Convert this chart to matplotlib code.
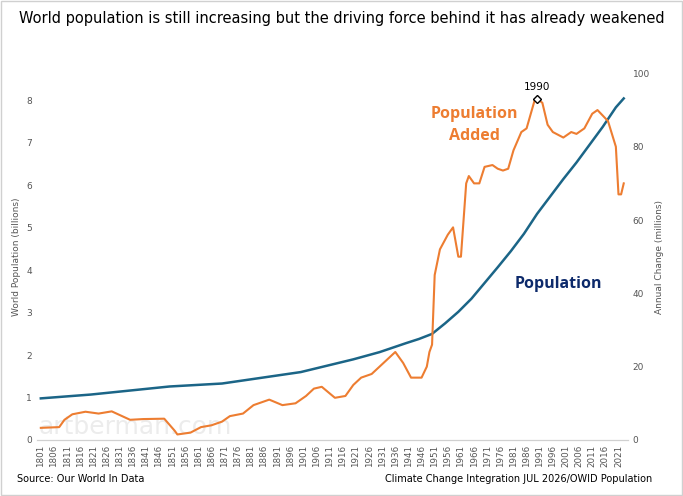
import matplotlib.pyplot as plt
import matplotlib.patches as mpatches

pop_years = [1801, 1820, 1850, 1870, 1900, 1920, 1930, 1940, 1945, 1950, 1955, 1960, 1965, 1970, 1975,
             1980, 1985, 1990, 1995, 2000, 2005, 2010, 2015, 2020, 2023]
population = [0.98, 1.07, 1.26, 1.33, 1.60, 1.90, 2.07, 2.28, 2.38, 2.50, 2.75, 3.02, 3.33, 3.70, 4.07,
              4.45, 4.86, 5.33, 5.74, 6.15, 6.54, 6.96, 7.38, 7.84, 8.05]

added_years = [1801, 1808, 1810, 1813, 1818, 1823, 1828, 1835, 1840, 1848, 1852, 1853, 1858, 1862,
               1866, 1870, 1873, 1878, 1882, 1888, 1893, 1898, 1902, 1905, 1908, 1913, 1917, 1920,
               1923, 1927, 1930, 1933, 1936, 1939, 1942, 1946, 1948, 1949, 1950, 1951, 1953, 1956,
               1958, 1960, 1961, 1963, 1964, 1966, 1968, 1970, 1973, 1975, 1977, 1979, 1981, 1984,
               1986, 1989, 1990, 1992, 1994, 1996, 2000, 2003, 2005, 2008, 2011, 2013, 2015, 2017,
               2020, 2021, 2022, 2023]
added = [3.3, 3.5, 5.5, 7, 7.7, 7.2, 7.8, 5.5, 5.7, 5.8, 2.5, 1.5, 2, 3.5,
         4, 5, 6.5, 7.2, 9.5, 11, 9.5, 10, 12, 14, 14.5, 11.5, 12, 15,
         17, 18, 20, 22, 24, 21, 17, 17, 20, 24, 26, 45, 52, 56,
         58, 50, 50, 70, 72, 70, 70, 74.5, 75, 74, 73.5, 74, 79, 84,
         85, 92.5, 93, 92, 86, 84, 82.5, 84, 83.5, 85, 89, 90, 88.5, 87,
         80, 67, 67, 70]

tick_years = list(range(1801, 2024, 5))

fig = plt.figure(figsize=(6.83, 4.96), dpi=100)
fig.patches.append(mpatches.Rectangle((0.002, 0.002), 0.996, 0.996, transform=fig.transFigure,
                                      fill=False, edgecolor='#d0d0d0', lw=1))
ax = fig.add_axes([0.054, 0.113, 0.865, 0.739])
ax2 = ax.twinx()

ax.plot(pop_years, population, color='#1b6587', lw=1.8)
ax2.plot(added_years, added, color='#ed7d31', lw=1.5)
ax2.plot([1990], [93], marker='D', ms=4.5, mfc='white', mec='black', mew=1)
ax2.text(1990, 95, '1990', ha='center', va='bottom', fontsize=7.5)

ax.set_xlim(1799.5, 2024.5)
ax.set_ylim(0, 8.64)
ax2.set_ylim(0, 100)
ax.set_yticks(range(0, 9))
ax2.set_yticks(range(0, 101, 20))
ax.set_xticks(tick_years)
ax.set_xticklabels([str(y) for y in tick_years], rotation=90, fontsize=6.3, color='#555555')
ax.tick_params(axis='y', labelsize=6.5, colors='#555555', length=0)
ax2.tick_params(axis='y', labelsize=6.5, colors='#555555', length=0)
ax.tick_params(axis='x', length=0)
for a in (ax, ax2):
    for s in ('top', 'left', 'right'):
        a.spines[s].set_visible(False)
    a.spines['bottom'].set_color('#d0d0d0')

ax.set_ylabel('World Population (billions)', fontsize=6.5, color='#555555')
ax2.set_ylabel('Annual Change (millions)', fontsize=6.5, color='#555555')

ax2.text(1966, 86, 'Population\nAdded', color='#ed7d31', fontsize=11.5, fontweight='bold',
         ha='center', va='center', family='Open Sans', linespacing=1.5)
ax2.text(1998, 42.5, 'Population', color='#0d2a6b', fontsize=11.5, fontweight='bold',
         ha='center', va='center', family='Open Sans')
ax2.text(1800, 0.3, 'artberman.com', color='#ececec', fontsize=18, ha='left', va='bottom', zorder=0)

fig.text(0.5, 0.963, 'World population is still increasing but the driving force behind it has already weakened',
         ha='center', va='center', fontsize=10.5)
fig.text(0.025, 0.035, 'Source: Our World In Data', fontsize=7, va='center')
fig.text(0.955, 0.035, 'Climate Change Integration JUL 2026/OWID Population', fontsize=7,
         va='center', ha='right')

fig.savefig('out.png', dpi=100)
